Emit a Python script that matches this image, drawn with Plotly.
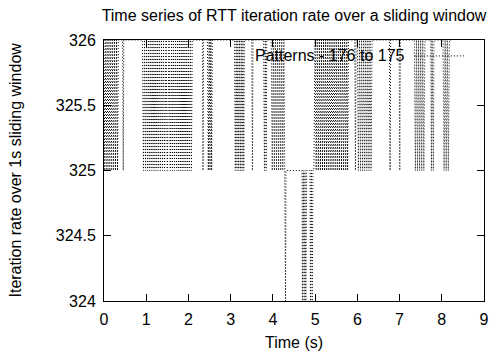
import plotly.graph_objects as go

# Time (s) of each sample of the sliding-window iteration rate
time_s = [
    0.00,
    0.02, 0.045, 0.07, 0.095, 0.12, 0.145, 0.17, 0.195, 0.22, 0.245, 0.27, 0.295, 0.32, 0.34,
    0.44, 0.455, 0.47,
    0.91, 0.935, 0.96, 0.985, 1.01, 1.035, 1.06, 1.085, 1.11, 1.135, 1.16, 1.185, 1.21, 1.235, 1.26, 1.285, 1.31, 1.335, 1.36, 1.385, 1.41, 1.435,
    1.47, 1.50, 1.54, 1.57, 1.60,
    1.62, 1.645, 1.67, 1.695, 1.72, 1.745, 1.77, 1.795, 1.82, 1.845, 1.87, 1.895, 1.92, 1.945, 1.97, 1.995, 2.02, 2.045, 2.07, 2.09,
    2.33, 2.345, 2.36,
    2.45, 2.47, 2.49, 2.51, 2.53, 2.55, 2.565,
    3.09, 3.11, 3.13, 3.15, 3.17, 3.19, 3.21, 3.23, 3.25, 3.27, 3.29, 3.31, 3.325,
    3.50, 3.515, 3.53,
    3.78, 3.80, 3.82, 3.84, 3.855,
    3.96, 3.985, 4.01, 4.035, 4.06, 4.085, 4.11, 4.135, 4.16, 4.185, 4.21, 4.235, 4.26, 4.28,
    4.30, 4.31, 4.69, 4.70, 4.72, 4.74, 4.76, 4.78, 4.80, 4.88, 4.89, 4.91, 4.93, 4.95, 4.97,
    5.00, 5.025, 5.05, 5.075, 5.10, 5.125, 5.15, 5.175, 5.20, 5.225, 5.25, 5.275, 5.30, 5.325, 5.35, 5.375,
    5.40, 5.425, 5.45, 5.475, 5.50, 5.525, 5.55, 5.575, 5.60, 5.625, 5.65, 5.675, 5.70, 5.725, 5.75,
    5.77, 5.79,
    5.94, 5.955, 5.97,
    6.00, 6.025, 6.05, 6.075, 6.10, 6.125, 6.15, 6.175, 6.20, 6.225, 6.25, 6.275, 6.30, 6.325, 6.35,
    6.76, 6.775, 6.79,
    6.99, 7.005, 7.02,
    7.35, 7.375, 7.40, 7.425, 7.45, 7.475, 7.50, 7.525, 7.55, 7.575, 7.60,
    7.74, 7.755, 7.77, 7.80, 7.815,
    8.03, 8.055, 8.08, 8.105, 8.13, 8.155, 8.18,
    8.25,
]

# Iteration rate over a 1 s sliding window at each sample
rate = [
    326,
    325, 326, 325, 326, 325, 326, 325, 326, 325, 326, 325, 326, 325, 326,
    326, 325, 326,
    326, 325, 326, 325, 326, 325, 326, 325, 326, 325, 326, 325, 326, 325, 326, 325, 326, 325, 326, 325, 326, 325,
    326, 325, 326, 325, 326,
    325, 326, 325, 326, 325, 326, 325, 326, 325, 326, 325, 326, 325, 326, 325, 326, 325, 326, 325, 326,
    326, 325, 326,
    326, 325, 326, 325, 326, 325, 326,
    326, 325, 326, 325, 326, 325, 326, 325, 326, 325, 326, 325, 326,
    326, 325, 326,
    326, 325, 326, 325, 326,
    326, 325, 326, 325, 326, 325, 326, 325, 326, 325, 326, 325, 326, 325,
    324, 325, 325, 324, 325, 324, 325, 324, 325, 325, 324, 325, 324, 325, 325,
    326, 325, 326, 325, 326, 325, 326, 325, 326, 325, 326, 325, 326, 325, 326, 325,
    326, 325, 326, 325, 326, 325, 326, 325, 326, 325, 326, 325, 326, 325, 326,
    325, 326,
    326, 325, 326,
    326, 325, 326, 325, 326, 325, 326, 325, 326, 325, 326, 325, 326, 325, 326,
    326, 325, 326,
    326, 325, 326,
    326, 325, 326, 325, 326, 325, 326, 325, 326, 325, 326,
    326, 325, 326, 325, 326,
    326, 325, 326, 325, 326, 325, 326,
    326,
]

x_ticks = [0, 1, 2, 3, 4, 5, 6, 7, 8, 9]
y_ticks = [324, 324.5, 325, 325.5, 326]
y_tick_text = ["324", "324.5", "325", "325.5", "326"]

title_text = "Time series of RTT iteration rate over a sliding window"
series_name = "Patterns - 176 to 175"
x_title = "Time (s)"
y_title = "Iteration rate over 1s sliding window"

FONT = "Liberation Sans, Arial, sans-serif"
DASH = "1px,2px"

fig = go.Figure()
fig.add_trace(go.Scatter(
    x=time_s, y=rate, mode="lines", name=series_name,
    line=dict(color="black", width=1, dash=DASH),
    showlegend=False,
))

axis_common = dict(
    showline=True, linecolor="black", linewidth=1, mirror="allticks",
    ticks="inside", ticklen=7, tickwidth=1, tickcolor="black",
    showgrid=False, zeroline=False,
    tickfont=dict(family=FONT, size=16, color="black"),
)

fig.update_xaxes(range=[0, 9], tickvals=x_ticks, ticklabelstandoff=4, **axis_common)
fig.update_yaxes(range=[324, 326], tickvals=y_ticks, ticktext=y_tick_text,
                 ticklabelstandoff=4, **axis_common)

fig.update_layout(
    width=501, height=356,
    margin=dict(l=104, r=13, t=40, b=55),
    paper_bgcolor="white", plot_bgcolor="white",
    font=dict(family=FONT, size=16, color="black"),
    title=dict(text=title_text, x=0.5, xref="paper", xanchor="center",
               y=1 - 15 / 356, yanchor="middle",
               font=dict(family=FONT, size=16, color="black")),
    annotations=[
        dict(text=x_title, xref="paper", yref="paper", x=0.5, y=0, yshift=-41,
             xanchor="center", yanchor="middle", showarrow=False,
             font=dict(family=FONT, size=16, color="black")),
        dict(text=y_title, xref="paper", yref="paper", x=0, y=0.5, xshift=-89,
             xanchor="center", yanchor="middle", textangle=-90, showarrow=False,
             font=dict(family=FONT, size=16, color="black")),
        dict(text=series_name, xref="paper", yref="paper", x=0.797, y=0.939,
             xanchor="right", yanchor="middle", showarrow=False,
             font=dict(family=FONT, size=16, color="black")),
    ],
    shapes=[
        dict(type="line", xref="paper", yref="paper", x0=0.818, x1=0.948,
             y0=0.939, y1=0.939, line=dict(color="black", width=1, dash=DASH)),
    ],
)

fig.write_html("out.html")
